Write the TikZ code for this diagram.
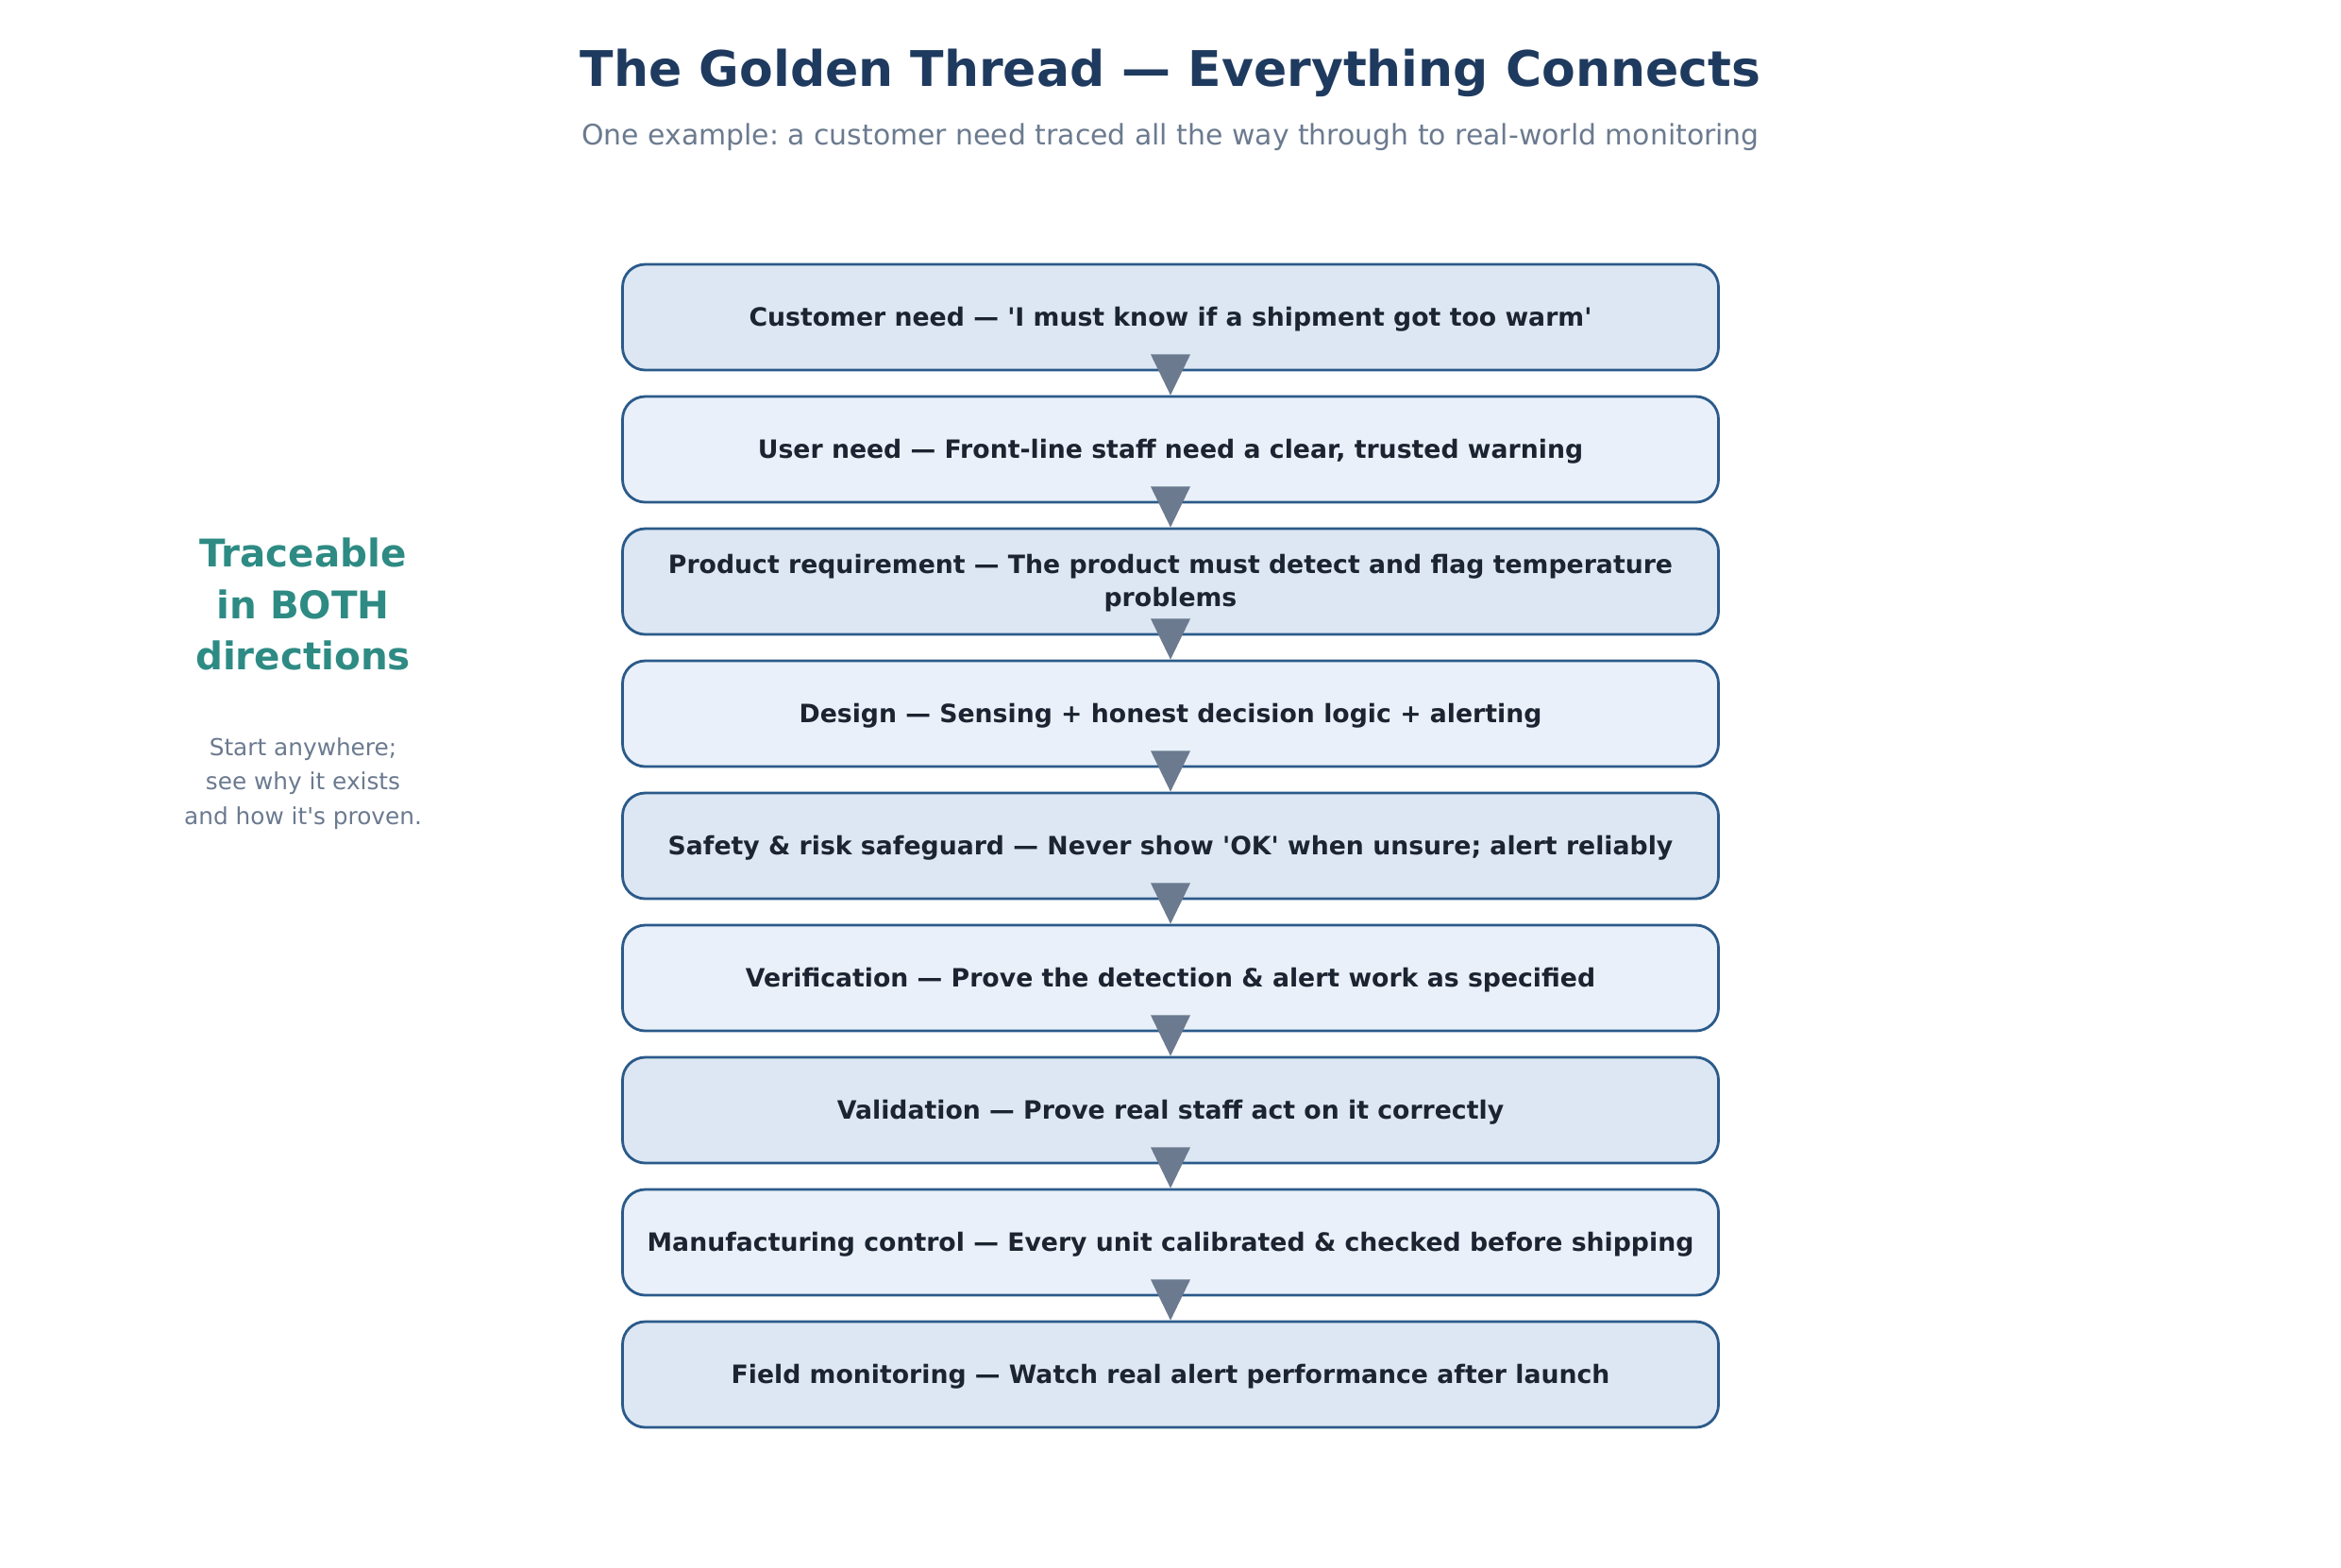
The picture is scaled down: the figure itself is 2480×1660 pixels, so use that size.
\documentclass[tikz,border=0pt]{standalone}
\usepackage{fontspec}
\setmainfont{DejaVu Sans}[Ligatures=TeXOff]
\usetikzlibrary{calc}
\frenchspacing
\definecolor{titlec}{HTML}{1F3A5F}
\definecolor{subc}{HTML}{6B7A8F}
\definecolor{tealc}{HTML}{2E8B84}
\definecolor{textc}{HTML}{1B2430}
\definecolor{borderc}{HTML}{2B5A8A}
\definecolor{fillA}{HTML}{DDE7F3}
\definecolor{fillB}{HTML}{E9F0F9}
\definecolor{arrowc}{HTML}{6B7A8F}
\tikzset{
  box/.style={rectangle, rounded corners=2.4mm, draw=borderc, line width=0.28mm,
    minimum width=116.1mm, minimum height=11.2mm, inner sep=0pt},
  btxt/.style={text=textc, align=center, inner sep=0pt,
    font=\bfseries\fontsize{7.6}{10}\selectfont},
  tri/.style={fill=arrowc},
  title/.style={text=titlec, font=\bfseries\fontsize{14.8}{18}\selectfont},
  subtitle/.style={text=subc, font=\fontsize{8.5}{10}\selectfont},
  side/.style={text=tealc, align=center, font=\bfseries\fontsize{11.5}{15.6}\selectfont},
  sidesmall/.style={text=subc, align=center, font=\fontsize{7.05}{10.3}\selectfont}
}
\begin{document}
\begin{tikzpicture}[x=0.1mm,y=-0.1mm]
\useasboundingbox (0,0) rectangle (2480,1660);
\node[title] (title) at (1240,77) {The Golden Thread — Everything Connects};
\node[subtitle] (sub) at (1240,145) {One example: a customer need traced all the way through to real-world monitoring};

\node[box, fill=fillA] (b0) at (1240,336) {};
\node[box, fill=fillB] (b1) at (1240,476) {};
\node[box, fill=fillA] (b2) at (1240,616) {};
\node[box, fill=fillB] (b3) at (1240,756) {};
\node[box, fill=fillA] (b4) at (1240,896) {};
\node[box, fill=fillB] (b5) at (1240,1036) {};
\node[box, fill=fillA] (b6) at (1240,1176) {};
\node[box, fill=fillB] (b7) at (1240,1316) {};
\node[box, fill=fillA] (b8) at (1240,1456) {};

\node[btxt] (t0) at ([yshift=-0.2mm]b0.center) {Customer need — 'I must know if a shipment got too warm'};
\node[btxt] (t1) at ([yshift=-0.2mm]b1.center) {User need — Front-line staff need a clear, trusted warning};
\node[btxt] (t2) at ([yshift=-0.2mm]b2.center) {Product requirement — The product must detect and flag temperature\\problems};
\node[btxt] (t3) at ([yshift=-0.2mm]b3.center) {Design — Sensing + honest decision logic + alerting};
\node[btxt] (t4) at ([yshift=-0.2mm]b4.center) {Safety \& risk safeguard — Never show 'OK' when unsure; alert reliably};
\node[btxt] (t5) at ([yshift=-0.2mm]b5.center) {Verification — Prove the detection \& alert work as specified};
\node[btxt] (t6) at ([yshift=-0.2mm]b6.center) {Validation — Prove real staff act on it correctly};
\node[btxt] (t7) at ([yshift=-0.2mm]b7.center) {Manufacturing control — Every unit calibrated \& checked before shipping};
\node[btxt] (t8) at ([yshift=-0.2mm]b8.center) {Field monitoring — Watch real alert performance after launch};

\foreach \a/\b in {b0/b1,b1/b2,b2/b3,b3/b4,b4/b5,b5/b6,b6/b7,b7/b8}{
  \fill[tri] ([xshift=-2.1mm,yshift=1.8mm]\a.south) -- ([xshift=2.1mm,yshift=1.8mm]\a.south) -- (\b.north) -- cycle;
}

\node[side] (trace) at (321,640) {Traceable\\in BOTH\\directions};
\node[sidesmall] (start) at (321,830) {Start anywhere;\\see why it exists\\and how it's proven.};
\end{tikzpicture}
\end{document}
